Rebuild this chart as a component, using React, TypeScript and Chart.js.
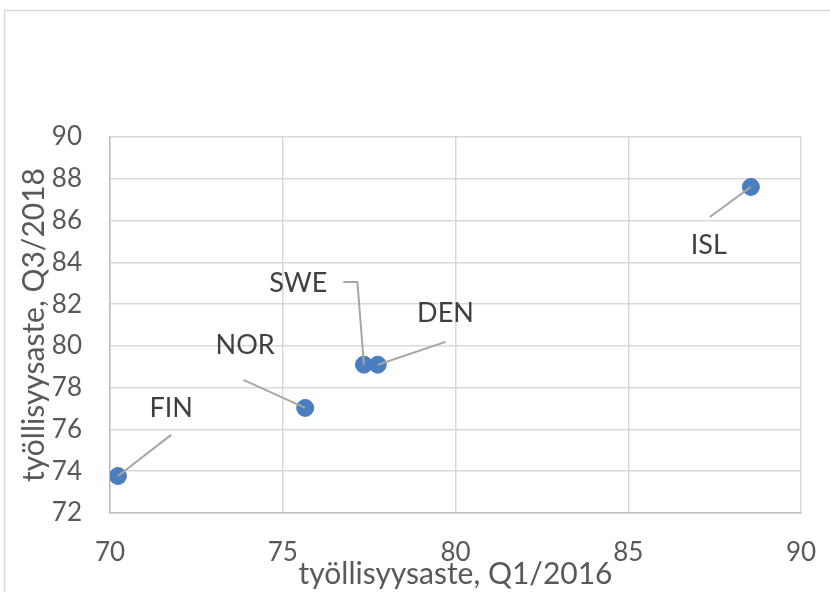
import React, { useEffect, useRef } from 'react';
import { Chart, registerables } from 'chart.js';

Chart.register(...registerables);

const countries = ['FIN', 'NOR', 'SWE', 'DEN', 'ISL'];
const rateQ1_2016 = [70.23, 75.65, 77.35, 77.75, 88.55];
const rateQ3_2018 = [73.77, 77.03, 79.1, 79.1, 87.61];
// label anchor (text centre) in axis units
const labelAtX = [71.77, 73.91, 75.45, 79.71, 87.33];
const labelAtY = [77.03, 80.04, 83.01, 81.57, 84.83];
// leader line start points (axis units); the line ends at the data point
const leaderPaths: number[][][] = [
  [[71.77, 75.74]],
  [[73.86, 78.37]],
  [[76.75, 83.06], [77.16, 83.06]],
  [[79.71, 80.19]],
  [[87.36, 86.17]],
];
const xTitle = 'työllisyysaste, Q1/2016';
const yTitle = 'työllisyysaste, Q3/2018';

const FONT = 'Lato';

const labelPlugin = {
  id: 'pointLabels',
  beforeDraw(chart: any) {
    const ctx = chart.ctx;
    ctx.save();
    ctx.strokeStyle = '#d9d9d9';
    ctx.lineWidth = 1.5;
    ctx.strokeRect(4.5, 10.5, 900, 700);
    ctx.restore();
  },
  afterDatasetsDraw(chart: any) {
    const { ctx, scales } = chart;
    const xs = scales.x;
    const ys = scales.y;
    ctx.save();
    ctx.strokeStyle = '#a6a6a6';
    ctx.lineWidth = 2;
    countries.forEach((c, i) => {
      const pts = [...leaderPaths[i], [rateQ1_2016[i], rateQ3_2018[i]]];
      ctx.beginPath();
      pts.forEach((p, j) => {
        const px = xs.getPixelForValue(p[0]);
        const py = ys.getPixelForValue(p[1]);
        if (j === 0) ctx.moveTo(px, py);
        else ctx.lineTo(px, py);
      });
      ctx.stroke();
    });
    ctx.fillStyle = '#404040';
    ctx.font = `27px ${FONT}`;
    ctx.textAlign = 'center';
    ctx.textBaseline = 'middle';
    countries.forEach((c, i) => {
      ctx.fillText(c, xs.getPixelForValue(labelAtX[i]), ys.getPixelForValue(labelAtY[i]));
    });
    ctx.restore();
  },
};

export default function App() {
  const ref = useRef<HTMLCanvasElement | null>(null);
  useEffect(() => {
    if (!ref.current) return;
    const chart = new Chart(ref.current, {
      type: 'scatter',
      data: {
        datasets: [
          {
            label: 'työllisyysaste',
            data: countries.map((c, i) => ({ x: rateQ1_2016[i], y: rateQ3_2018[i] })),
            backgroundColor: '#4a7ebf',
            borderColor: '#4a7ebf',
            pointRadius: 8.5,
            pointHoverRadius: 8.5,
          },
        ],
      },
      options: {
        responsive: false,
        animation: false,
        layout: { padding: { left: 15, top: 137, right: 29, bottom: 0 } },
        plugins: { legend: { display: false }, tooltip: { enabled: false } },
        scales: {
          x: {
            type: 'linear',
            min: 70,
            max: 90,
            afterFit: (s: any) => {
              s.height = 79;
            },
            ticks: {
              stepSize: 5,
              padding: 0,
              minRotation: 0,
              maxRotation: 0,
              color: '#595959',
              font: { family: FONT, size: 26 },
            },
            grid: {
              color: '#d9d9d9',
              lineWidth: 1.5,
              drawTicks: true,
              tickLength: 24,
              tickColor: 'rgba(0,0,0,0)',
            },
            border: { color: '#bfbfbf', width: 1.5 },
            title: {
              display: true,
              text: xTitle,
              color: '#595959',
              font: { family: FONT, size: 30 },
              padding: { top: 0, bottom: 0 },
            },
          },
          y: {
            type: 'linear',
            min: 72,
            max: 90,
            afterFit: (s: any) => {
              s.width = 95;
            },
            ticks: { stepSize: 2, padding: 28, color: '#595959', font: { family: FONT, size: 26 } },
            grid: { color: '#d9d9d9', lineWidth: 1.5, drawTicks: false },
            border: { color: '#bfbfbf', width: 1.5 },
            title: {
              display: true,
              text: yTitle,
              color: '#595959',
              font: { family: FONT, size: 30 },
              padding: { top: 1, bottom: 0 },
            },
          },
        },
      },
      plugins: [labelPlugin],
    });
    return () => chart.destroy();
  }, []);
  return (
    <div style={{ position: 'absolute', left: 0, top: 0, width: 830, height: 592, background: '#fff' }}>
      <canvas ref={ref} width={830} height={592} />
    </div>
  );
}
